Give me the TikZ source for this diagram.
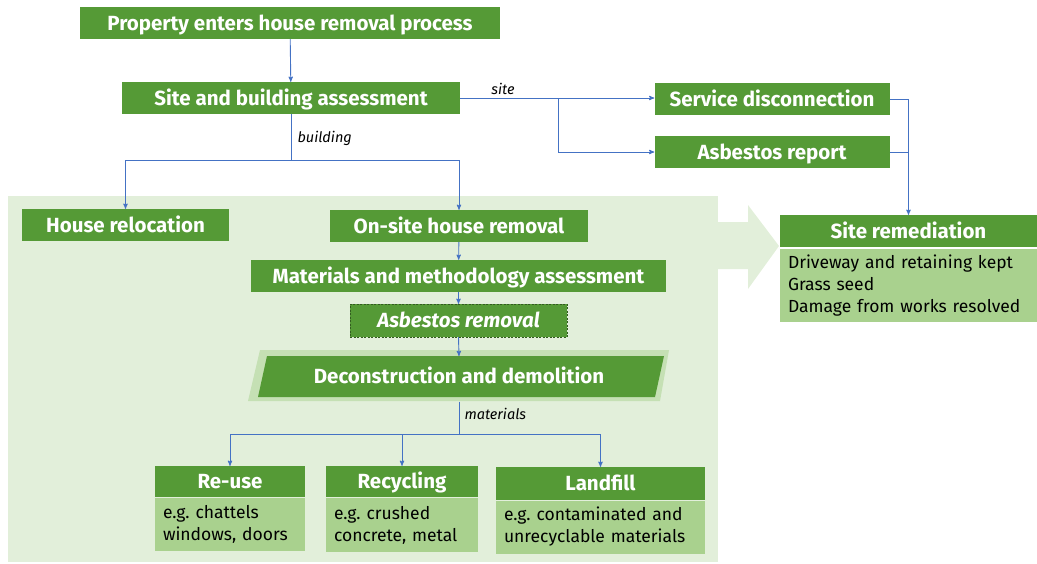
\documentclass[tikz,border=0pt]{standalone}
\usepackage{fontspec}
\setmainfont{Fira Sans}
\usetikzlibrary{arrows}
\frenchspacing

\definecolor{leafgreen}{HTML}{559A36}
\definecolor{softgreen}{HTML}{A9D18E}
\definecolor{palegreen}{HTML}{E2EFDA}
\definecolor{bandgreen}{HTML}{C5E0B4}
\definecolor{flowblue}{HTML}{4472C4}

\begin{document}
\begin{tikzpicture}[x=1pt,y=-1pt,>=stealth',
    box/.style={fill=leafgreen,text=white,font=\bfseries\fontsize{20.5}{24}\selectfont,inner sep=0pt,
      text height=17pt,text depth=3pt,minimum height=32pt},
    note/.style={fill=softgreen,align=left,inner xsep=8pt,inner ysep=0pt,font=\fontsize{17.5}{22}\selectfont},
    link/.style={->,draw=flowblue,line width=0.9pt},
    plain/.style={draw=flowblue,line width=0.9pt},
    tag/.style={font=\itshape\fontsize{14.5}{16}\selectfont}]

  \useasboundingbox (0,0) rectangle (1037,563);

  % shaded area and big arrow
  \fill[palegreen] (8,196) rectangle (718,562);
  \fill[palegreen] (717,222) -- (748,222) -- (748,205) -- (779,246) -- (748,289) -- (748,269) -- (717,269) -- cycle;

  \node[box,minimum width=420pt] (enter) at (290,23) {Property enters house removal process};
  \node[box,minimum width=338pt] (assess) at (291,98) {Site and building assessment};
  \node[box,minimum width=235pt] (service) at (772,99) {Service disconnection};
  \node[box,minimum width=235pt] (report) at (772,152) {Asbestos report};

  \node[box,minimum width=257pt] (remedy) at (908.5,231) {Site remediation};
  \node[note,minimum width=257pt,minimum height=73pt,text width=241pt] (remedybody) at (908.5,285.5)
    {Driveway and retaining kept\\Grass seed\\Damage from works resolved};

  \node[box,minimum width=207pt] (relocate) at (125.5,225) {House relocation};
  \node[box,minimum width=258pt] (onsite) at (459,226) {On-site house removal};
  \node[box,minimum width=415pt] (method) at (458.5,276) {Materials and methodology assessment};
  \node[box,minimum width=217pt,minimum height=33pt,draw=leafgreen!60!black,dash pattern=on 2pt off 1.5pt,
    font=\bfseries\itshape\fontsize{20.5}{24}\selectfont] (asbremove) at (458.5,320.5) {Asbestos removal};

  % slanted demolition box
  \fill[bandgreen] (248,401) -- (260,350) -- (669,350) -- (660,401) -- cycle;
  \fill[leafgreen] (258,397) -- (267,356) -- (664,356) -- (655,397) -- cycle;
  \node[box,fill=none,minimum height=51pt] (demolish) at (459,376) {Deconstruction and demolition};

  \node[box,minimum width=150pt,minimum height=31pt] (reuse) at (230,481.5) {Re-use};
  \node[note,minimum width=150pt,minimum height=53pt,text width=134pt] (reusebody) at (230,524.5)
    {e.g. chattels\\windows, doors};
  \node[box,minimum width=152pt,minimum height=31pt] (recycle) at (402,481.5) {Recycling};
  \node[note,minimum width=152pt,minimum height=54pt,text width=136pt] (recyclebody) at (402,525)
    {e.g. crushed\\concrete, metal};
  \node[box,minimum width=209pt,minimum height=33pt] (landfill) at (600.5,483.5) {Landfill};
  \node[note,minimum width=209pt,minimum height=53pt,text width=193pt] (landfillbody) at (600.5,527)
    {e.g. contaminated and\\unrecyclable materials};

  \coordinate (sitesplit) at (558,99);
  \coordinate (buildsplit) at (291,160);
  \coordinate (matsplit) at (459,434);
  \coordinate (remjoin) at (908,152);

  \draw[link] (enter) -- (assess);
  \draw[link] (assess.east) -- (assess.east -| service.west);
  \draw[link] (sitesplit) |- (report.west);
  \draw[link] (service.east) -| (remedy.north);
  \draw[plain] (report.east) -- (remjoin);
  \node[tag] at (503,89) {site};

  \draw[plain] (assess.south) -- (buildsplit);
  \draw[link] (buildsplit) -| (relocate.north);
  \draw[link] (buildsplit) -| (onsite.north);
  \node[tag,anchor=west] at (294,138) {building};

  \draw[link] (onsite) -- (method);
  \draw[link] (method) -- (asbremove);
  \draw[link] (asbremove.south) -- (459,356);

  \draw[plain] (demolish.south) -- (matsplit);
  \draw[link] (matsplit) -| (reuse.north);
  \draw[link] (matsplit) -| (recycle.north);
  \draw[link] (matsplit) -| (landfill.north);
  \node[tag,anchor=west] at (461,414) {materials};

\end{tikzpicture}
\end{document}
